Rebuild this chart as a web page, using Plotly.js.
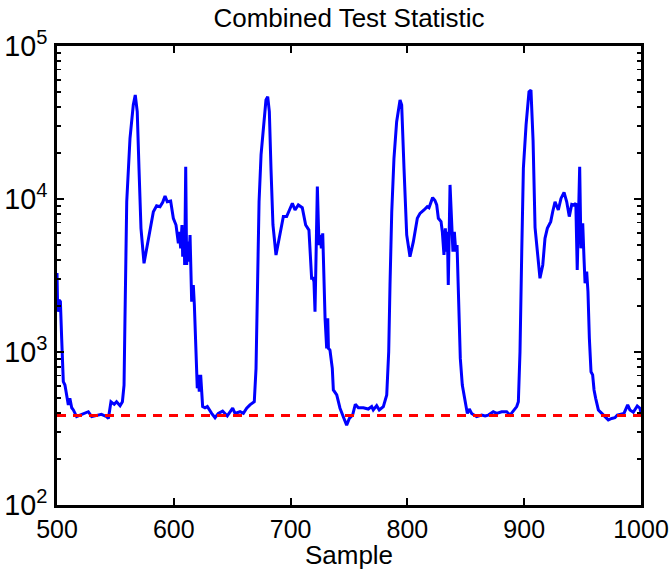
<!DOCTYPE html>
<html>
<head>
<meta charset="utf-8">
<script src="https://cdn.plot.ly/plotly-3.0.1.min.js"></script>
<style>html,body{margin:0;padding:0;background:#fff;}#chart{width:671px;height:570px;}</style>
</head>
<body>
<div id="chart"></div>
<script>
// Sample index (x) of the combined test statistic
const sampleIdx = [
  500, 500.6, 501.7, 502.9, 504, 505.4, 506.8, 509.7, 511, 512.6, 514, 516.8, 519.7, 524, 526.8, 529.7, 534, 538, 542.5, 544,
  546.2, 549, 551, 554, 556, 557.4, 558.2, 559.7, 562.5, 565.3, 567, 568.7, 570.2, 571.9, 574.5, 577.6, 581, 582.5, 585.3, 588.2,
  590.5, 592.5, 594.4, 597.3, 599.6, 601.9, 603.9, 604.7, 605.9, 607, 607.6, 608.7, 609.3, 610.2, 611, 612, 613, 613.9, 615.3, 616.7,
  617.6, 619, 620.1, 621, 621.8, 623, 624.7, 626.7, 628.7, 632.4, 635.3, 638.1, 641.8, 645.8, 650.4, 652.4, 656.7, 659.6, 662.4, 665.2,
  668.9, 670.4, 671.5, 673, 674.7, 676.7, 678.9, 680.4, 681.8, 683.2, 684.9, 687.5, 690.3, 693.8, 696.6, 699.5, 701.5, 703.8, 706.6, 710,
  712.9, 715.7, 718, 719.2, 720, 720.9, 721.8, 722.9, 724.3, 725.5, 726.3, 727.5, 729.5, 730.9, 731.8, 732.4, 733.7, 735.7, 736.6, 739.5,
  742.3, 743.7, 745.7, 748, 750.3, 753.1, 755.4, 758, 762.3, 766.5, 769.4, 770.8, 773.7, 775.9, 779.4, 782.3, 784, 785.1, 786.6, 788.5,
  790.8, 793.7, 795.1, 797.1, 799.4, 802.2, 805.1, 808.5, 810.8, 814.2, 817, 818.5, 821.6, 823.6, 825.1, 826.5, 828.8, 829.9, 831.3, 832.5,
  833.3, 834.2, 835, 836.5, 837.9, 839, 840.2, 841.4, 842.5, 844.2, 845.3, 847, 849.3, 851.3, 853, 855, 859.3, 863.6, 866.5, 869.3,
  873.5, 876.4, 880.7, 885, 887.9, 890.7, 893.6, 895, 896.4, 897.9, 899.3, 901.6, 904.1, 905.8, 907.6, 909.3, 911.2, 913.5, 915.9, 917.8,
  919.8, 922.7, 924.4, 926.4, 929.2, 931.5, 934.1, 936.4, 938.6, 940.7, 942.6, 944.2, 945.4, 946.6, 947.5, 948.6, 950.1, 951.2, 952.1, 953.5,
  954.6, 955.8, 957.2, 958.6, 959.8, 961.2, 963.5, 966.4, 969.2, 972, 974.9, 977.7, 979.7, 982.6, 985.4, 988.6, 990.5, 993.4, 996.8, 999.1,
  1000
];
// Combined test statistic values (y, log scale)
const statValues = [
  3280, 1832, 2188, 2133, 1227, 640, 608, 451, 498, 432, 418, 378, 387, 397, 407, 378, 387, 391, 378, 368,
  473, 455, 473, 446, 473, 608, 1660, 9594, 24950, 41110, 47860, 37240, 15850, 6427, 3802, 5260, 7482, 8260, 9036, 8913,
  9506, 10470, 9594, 9705, 7482, 6761, 5129, 6109, 4764, 6761, 4198, 6427, 3707, 16260, 3707, 5260, 3890, 5821, 2133, 2742,
  2028, 1112, 579, 708, 551, 708, 440, 432, 440, 397, 372, 397, 411, 382, 429, 397, 407, 397, 429, 451,
  473, 782, 2742, 9594, 19410, 28970, 44360, 46670, 37240, 15850, 6761, 4305, 5534, 7674, 7674, 8690, 9376, 8472, 9141, 8770,
  6761, 6266, 3034, 3034, 2884, 1832, 4093, 12050, 5000, 5821, 4764, 5970, 1660, 1057, 1660, 1057, 1030, 782, 565, 524,
  429, 397, 368, 333, 368, 387, 455, 432, 432, 424, 440, 418, 446, 418, 440, 524, 1005, 2742, 8260, 18450,
  31990, 44360, 41110, 15850, 5821, 4198, 5260, 7482, 8054, 8472, 8913, 8770, 10210, 9772, 9141, 7482, 7112, 6109, 4305, 6427,
  4529, 6109, 2742, 12360, 6109, 4529, 6109, 4529, 5000, 1660, 908, 608, 473, 397, 424, 397, 378, 387, 382, 387,
  407, 397, 407, 407, 387, 411, 440, 473, 1005, 4529, 15850, 30480, 50230, 51520, 24000, 6500, 4529, 3034, 3707, 5534,
  6427, 7112, 8260, 9594, 8472, 10090, 11040, 9594, 7674, 9226, 9141, 9376, 3436, 9594, 16260, 4764, 6934, 4093, 2812, 3350,
  2477, 1227, 743, 708, 565, 498, 418, 397, 378, 360, 368, 372, 387, 392, 397, 451, 418, 404, 444, 429,
  397
];
// Detection threshold (red dashed line)
const thresholdX = [500, 1000];
const thresholdY = [385, 385];

const xTickVals = [500, 600, 700, 800, 900, 1000];

const FONT = 'Liberation Sans, Arial, Helvetica, sans-serif';

const data = [
  {
    x: sampleIdx, y: statValues, type: 'scatter', mode: 'lines',
    line: {color: '#0000ff', width: 3}, hoverinfo: 'skip', showlegend: false
  },
  {
    x: thresholdX, y: thresholdY, type: 'scatter', mode: 'lines',
    line: {color: '#ff0000', width: 3, dash: '9px,7px'}, hoverinfo: 'skip', showlegend: false
  }
];

const layout = {
  width: 671, height: 570,
  margin: {l: 57, r: 30, t: 46, b: 65, pad: 0},
  paper_bgcolor: '#ffffff', plot_bgcolor: '#ffffff',
  font: {family: FONT, color: '#000000', size: 25},
  showlegend: false,
  title: {
    text: 'Combined Test Statistic',
    font: {family: FONT, size: 26, color: '#000000'},
    x: 0.5, xref: 'paper', xanchor: 'center',
    y: 1 - 18/570, yref: 'container', yanchor: 'middle'
  },
  xaxis: {
    range: [500, 1000], tickvals: xTickVals,
    ticks: 'inside', ticklen: 7, tickwidth: 2, tickcolor: '#000',
    showline: true, linecolor: '#000', linewidth: 3, mirror: 'ticks',
    showgrid: false, zeroline: false,
    tickfont: {family: FONT, size: 25, color: '#000'},
    title: {text: 'Sample', font: {family: FONT, size: 26, color: '#000'}, standoff: 0},
    automargin: false
  },
  yaxis: {
    type: 'log', range: [2, 5], dtick: 1, exponentformat: 'power',
    ticks: 'inside', ticklen: 7, tickwidth: 2, tickcolor: '#000',
    minor: {ticks: 'inside', ticklen: 4, tickwidth: 1.5, tickcolor: '#000', dtick: 'D1', showgrid: false},
    showline: true, linecolor: '#000', linewidth: 3, mirror: 'ticks',
    showgrid: false, zeroline: false,
    tickfont: {family: FONT, size: 23, color: '#000'},
    ticklabelstandoff: 2,
    automargin: false
  }
};

Plotly.newPlot('chart', data, layout, {staticPlot: true, displayModeBar: false});
</script>
</body>
</html>
